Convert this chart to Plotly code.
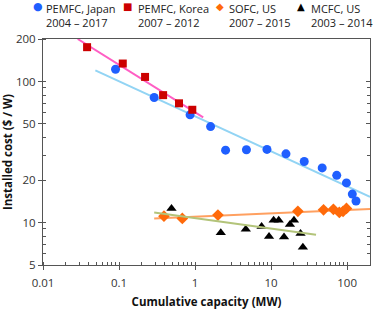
import plotly.graph_objects as go
import numpy as np

# ---- data ----
japan_x = [0.09, 0.29, 0.86, 1.6, 2.52, 4.74, 8.83, 15.7, 27.3, 47, 73, 98, 117, 131]
japan_y = [122, 77, 58, 47.9, 32.6, 32.8, 33, 30.7, 27.1, 24.4, 21.6, 19.1, 15.9, 14.2]

korea_x = [0.038, 0.112, 0.22, 0.38, 0.615, 0.92]
korea_y = [175, 134, 107.7, 80, 70, 63]

sofc_x = [0.39, 0.68, 2.0, 22.5, 49, 66, 79, 88.5, 98]
sofc_y = [11.1, 10.7, 11.3, 12.0, 12.3, 12.4, 11.8, 12.0, 12.6]

mcfc_x = [0.49, 2.18, 4.65, 7.5, 9.4, 10.8, 12.6, 14.8, 17.7, 20, 24.4, 26.2]
mcfc_y = [12.6, 8.45, 8.96, 9.37, 7.95, 10.4, 10.4, 7.9, 9.7, 10.4, 8.35, 6.67]

# fitted trend lines (end points)
korea_fit_x = [0.0286, 1.28]
korea_fit_y = [200, 55.7]
japan_fit_x = [0.0488, 200]
japan_fit_y = [120, 15.2]
sofc_fit_x = [0.29, 200]
sofc_fit_y = [10.7, 12.45]
mcfc_fit_x = [0.29, 39]
mcfc_fit_y = [11.8, 8.2]

x_ticks = [0.01, 0.1, 1, 10, 100]
x_ticklabels = ["0.01", "0.1", "1", "10", "100"]
y_ticks = [5, 10, 20, 50, 100, 200]
y_ticklabels = ["5", "10", "20", "50", "100", "200"]

series_names = ["PEMFC, Japan", "PEMFC, Korea", "SOFC, US", "MCFC, US"]
series_years = ["2004 – 2017", "2007 – 2012", "2007 – 2015", "2003 – 2014"]
series_colors = ["#1F5FFF", "#CC0000", "#FF6A0A", "#000000"]
series_glyphs = ["●", "■", "◆", "▲"]

FONT = "Open Sans"

W, H = 373, 309
ML, MR, MT, MB = 43, 3, 39, 44
PW, PH = W - ML - MR, H - MT - MB


def px_to_paper_x(px):
    return (px - ML) / PW


def px_to_paper_y(py):
    return (H - MB - py) / PH


fig = go.Figure()

# trend lines
fig.add_trace(go.Scatter(x=korea_fit_x, y=korea_fit_y, mode="lines",
                         line=dict(color="#FF5EC4", width=2), showlegend=False, hoverinfo="skip"))
fig.add_trace(go.Scatter(x=japan_fit_x, y=japan_fit_y, mode="lines",
                         line=dict(color="#92D4F4", width=2), showlegend=False, hoverinfo="skip"))
fig.add_trace(go.Scatter(x=sofc_fit_x, y=sofc_fit_y, mode="lines",
                         line=dict(color="#FFA060", width=2), showlegend=False, hoverinfo="skip"))
fig.add_trace(go.Scatter(x=mcfc_fit_x, y=mcfc_fit_y, mode="lines", yaxis="y2",
                         line=dict(color="#B3C47A", width=2), showlegend=False, hoverinfo="skip"))

# points
fig.add_trace(go.Scatter(x=japan_x, y=japan_y, mode="markers", name=series_names[0],
                         marker=dict(symbol="circle", size=9, color=series_colors[0]), showlegend=False))
fig.add_trace(go.Scatter(x=korea_x, y=korea_y, mode="markers", name=series_names[1],
                         marker=dict(symbol="square", size=8, color=series_colors[1]), showlegend=False))
fig.add_trace(go.Scatter(x=sofc_x, y=sofc_y, mode="markers", name=series_names[2],
                         marker=dict(symbol="diamond", size=9, color=series_colors[2]), showlegend=False))
fig.add_trace(go.Scatter(x=mcfc_x, y=mcfc_y, mode="markers", name=series_names[3],
                         marker=dict(symbol="triangle-up", size=9, color=series_colors[3]), showlegend=False))

# legend built from annotations
glyph_px = [38, 128, 220, 301]
text_px = [44, 136, 227, 309]
glyph_sizes = [11, 10, 10, 10]
annotations = []
for i in range(4):
    annotations.append(dict(
        x=px_to_paper_x(glyph_px[i]), y=px_to_paper_y(6.5), xref="paper", yref="paper",
        xanchor="center", yanchor="middle", showarrow=False,
        text=series_glyphs[i], font=dict(family="DejaVu Sans", size=glyph_sizes[i], color=series_colors[i])))
    annotations.append(dict(
        x=px_to_paper_x(text_px[i]), y=px_to_paper_y(-1), xref="paper", yref="paper",
        xanchor="left", yanchor="top", align="left", showarrow=False,
        text=series_names[i] + "<br>" + series_years[i],
        font=dict(family=FONT, size=11, color="#222222")))

yrange = [np.log10(5), np.log10(200)]
axis_common = dict(type="log", showgrid=False, zeroline=False,
                   tickfont=dict(family=FONT, size=11.5, color="#333333"))

fig.update_layout(
    width=W, height=H,
    margin=dict(l=ML, r=MR, t=MT, b=MB, autoexpand=False),
    paper_bgcolor="white", plot_bgcolor="white",
    font=dict(family=FONT, color="#222222"),
    showlegend=False,
    annotations=annotations,
    xaxis=dict(**axis_common, range=[-2, np.log10(200)],
               tickvals=x_ticks, ticktext=x_ticklabels,
               showline=True, linecolor="#555555", linewidth=1, mirror=True,
               ticks="outside", ticklen=4, tickcolor="#555555", ticklabelstandoff=3,
               minor=dict(ticks="inside", ticklen=3, tickcolor="#555555", dtick="D1"),
               title=dict(text="<b>Cumulative capacity (MW)</b>",
                          font=dict(family=FONT, size=11.5, color="#111111"), standoff=9)),
    yaxis=dict(**axis_common, range=yrange,
               tickvals=y_ticks, ticktext=y_ticklabels,
               showline=True, linecolor="#555555", linewidth=1, mirror=True,
               ticks="outside", ticklen=4, tickcolor="#555555",
               minor=dict(ticks="inside", ticklen=3, tickcolor="#555555", dtick="D1"),
               title=dict(text="<b>Installed cost ($ / W)</b>",
                          font=dict(family=FONT, size=11.5, color="#111111"), standoff=1)),
    yaxis2=dict(type="log", range=yrange, overlaying="y", side="right",
                showgrid=False, zeroline=False, showticklabels=False,
                tickvals=y_ticks, ticks="inside", ticklen=4, tickcolor="#555555",
                minor=dict(ticks="inside", ticklen=3, tickcolor="#555555", dtick="D1")),
)

fig.write_html("out.html", config={"displayModeBar": False},
               post_script="document.body.style.margin='0';")
